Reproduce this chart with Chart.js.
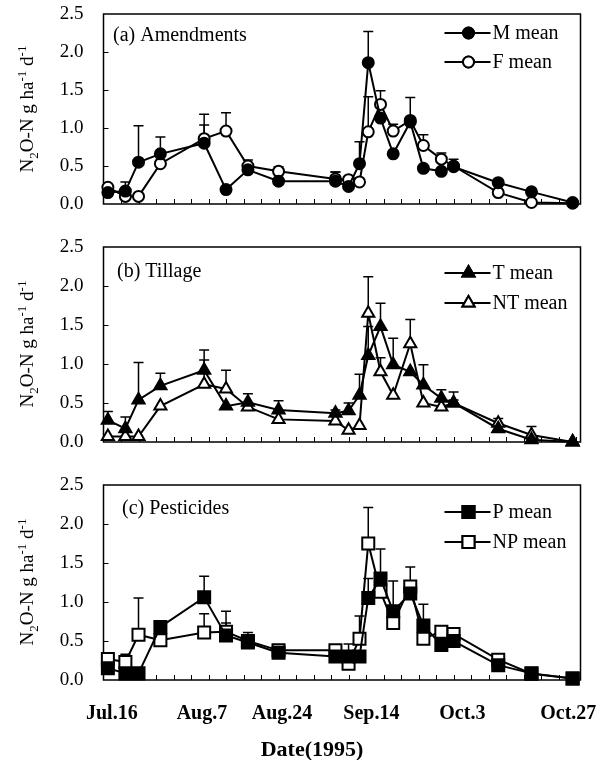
<!DOCTYPE html>
<html lang="en">
  <head>
    <meta charset="UTF-8" />
    <title>N2O-N flux 1995</title>
    <script src="https://cdn.jsdelivr.net/npm/chart.js"></script>
    <style>
      body { margin: 0; background: #fff; }
      #page { position: relative; width: 598px; height: 760px; overflow: hidden; font-family: "Liberation Serif", serif; color: #000; }
      .panel { position: absolute; left: 0; }
      .ytitle {
        position: absolute; left: 27px; font-size: 19px; white-space: nowrap;
        transform: translate(-50%, -50%) rotate(-90deg);
      }
      .ytitle sub, .ytitle sup { font-size: 13px; line-height: 0; }
      #xtitle { position: absolute; left: 312px; top: 749px; transform: translate(-50%, -50%); font-size: 22px; font-weight: bold; white-space: nowrap; }
    </style>
  </head>
  <body>
    <div id="page">
      <div class="panel" style="top:0px"><canvas id="chartA" width="598" height="222"></canvas></div>
      <div class="panel" style="top:233px"><canvas id="chartB" width="598" height="222"></canvas></div>
      <div class="panel" style="top:471px"><canvas id="chartC" width="598" height="289"></canvas></div>

      <div class="ytitle" style="top:109px">N<sub>2</sub>O-N g ha<sup>-1</sup> d<sup>-1</sup></div>
      <div class="ytitle" style="top:344px">N<sub>2</sub>O-N g ha<sup>-1</sup> d<sup>-1</sup></div>
      <div class="ytitle" style="top:582px">N<sub>2</sub>O-N g ha<sup>-1</sup> d<sup>-1</sup></div>
      <div id="xtitle">Date(1995)</div>
    </div>

    <script>
      // sampling days (days after Jul.15, 1995)
      const days = [1, 5, 8, 13, 23, 28, 33, 40, 53, 56, 58.5, 60.5, 63.3, 66.2, 70.1, 73.1, 77.2, 80, 90.2, 97.8, 107.2];

      // x axis labels
      const xTickDays = [1.9, 22.5, 40.8, 61.2, 82, 106.2];
      const xTickLabels = ["Jul.16", "Aug.7", "Aug.24", "Sep.14", "Oct.3", "Oct.27"];

      // (a) Amendments
      const mMean = [0.15, 0.17, 0.55, 0.66, 0.80, 0.19, 0.45, 0.30, 0.30, 0.23, 0.53, 1.86, 1.13, 0.66, 1.08, 0.47, 0.43, 0.49, 0.28, 0.16, 0.02];
      const mErr  = [0, 0.12, 0.48, 0.22, 0.24, 0, 0, 0, 0.12, 0, 0.29, 0.41, 0, 0, 0.32, 0, 0, 0.10, 0, 0.03, 0];
      const fMean = [0.22, 0.10, 0.10, 0.53, 0.86, 0.96, 0.50, 0.43, 0.33, 0.32, 0.29, 0.95, 1.31, 0.96, 1.10, 0.77, 0.59, 0.50, 0.15, 0.02, 0.01];
      const fErr  = [0.03, 0, 0, 0, 0.32, 0.24, 0.08, 0.06, 0.09, 0, 0, 0.46, 0.18, 0.09, 0, 0.14, 0.08, 0, 0, 0, 0];

      // (b) Tillage
      const tMean  = [0.28, 0.17, 0.54, 0.72, 0.92, 0.46, 0.51, 0.41, 0.37, 0.40, 0.60, 1.11, 1.48, 0.99, 0.90, 0.73, 0.56, 0.50, 0.17, 0.03, 0.00];
      const tErr   = [0.11, 0.15, 0.48, 0.16, 0.26, 0, 0.11, 0.12, 0.04, 0.10, 0.27, 0.37, 0.30, 0.34, 0, 0.26, 0.11, 0.14, 0.13, 0.17, 0];
      const ntMean = [0.07, 0.07, 0.07, 0.46, 0.74, 0.68, 0.45, 0.29, 0.27, 0.15, 0.21, 1.65, 0.90, 0.60, 1.26, 0.50, 0.45, 0.50, 0.24, 0.09, 0.00];
      const ntErr  = [0, 0, 0, 0, 0.31, 0.24, 0, 0, 0, 0, 0, 0.47, 0.18, 0, 0.31, 0, 0, 0.04, 0, 0, 0];

      // (c) Pesticides
      const pMean  = [0.15, 0.085, 0.085, 0.68, 1.06, 0.57, 0.48, 0.35, 0.30, 0.30, 0.30, 1.05, 1.30, 0.88, 1.11, 0.70, 0.45, 0.50, 0.19, 0.085, 0.02];
      const pErr   = [0, 0, 0, 0, 0.27, 0.16, 0.13, 0, 0, 0.16, 0, 0.25, 0.38, 0.39, 0.34, 0.27, 0, 0, 0, 0, 0];
      const npMean = [0.27, 0.23, 0.58, 0.51, 0.61, 0.62, 0.50, 0.38, 0.38, 0.21, 0.53, 1.75, 1.13, 0.73, 1.20, 0.53, 0.62, 0.59, 0.26, 0.08, 0.02];
      const npErr  = [0.07, 0.10, 0.47, 0, 0.24, 0.26, 0, 0, 0, 0, 0.29, 0.46, 0, 0, 0, 0, 0, 0, 0, 0, 0];

      const SERIF = "'Liberation Serif', 'Times New Roman', serif";

      function series(label, values, errors, style, filled, radius) {
        return {
          label: label,
          data: values.map((v, i) => ({ x: days[i], y: v })),
          errors: errors,
          borderColor: "#000",
          borderWidth: 2,
          pointStyle: style,
          pointRadius: radius,
          pointHoverRadius: radius,
          pointBorderWidth: 2,
          pointBorderColor: "#000",
          pointBackgroundColor: filled ? "#000" : "#fff",
          tension: 0,
          clip: false,
        };
      }

      // box round the plot area + inward tick marks
      const frameTicks = {
        id: "frameTicks",
        beforeDatasetsDraw(chart) {
          const { ctx, chartArea: a, scales } = chart;
          ctx.save();
          ctx.strokeStyle = "#000";
          ctx.lineWidth = 1.5;
          ctx.strokeRect(a.left, a.top, a.right - a.left, a.bottom - a.top);
          ctx.lineWidth = 1;
          ctx.beginPath();
          for (let d = 4; d < 109; d += 4) {
            const px = Math.round(scales.x.getPixelForValue(d)) + 0.5;
            ctx.moveTo(px, a.bottom);
            ctx.lineTo(px, a.bottom - 5);
          }
          for (let v = 0.5; v < 2.5; v += 0.5) {
            const py = Math.round(scales.y.getPixelForValue(v)) + 0.5;
            ctx.moveTo(a.left, py);
            ctx.lineTo(a.left + 5, py);
          }
          ctx.stroke();
          ctx.restore();
        },
      };

      // upper error bars with caps
      const errorBars = {
        id: "errorBars",
        beforeDatasetsDraw(chart) {
          const { ctx, scales } = chart;
          ctx.save();
          ctx.strokeStyle = "#000";
          ctx.lineWidth = 1.5;
          chart.data.datasets.forEach((ds) => {
            ds.data.forEach((pt, i) => {
              const e = ds.errors[i];
              if (!e) return;
              const px = scales.x.getPixelForValue(pt.x);
              const y0 = scales.y.getPixelForValue(pt.y);
              const y1 = scales.y.getPixelForValue(pt.y + e);
              ctx.beginPath();
              ctx.moveTo(px, y0);
              ctx.lineTo(px, y1);
              ctx.moveTo(px - 5, y1);
              ctx.lineTo(px + 5, y1);
              ctx.stroke();
            });
          });
          ctx.restore();
        },
      };

      // panel caption and legend inside the plot
      const captionLegend = {
        id: "captionLegend",
        afterDraw(chart, args, opts) {
          const { ctx, chartArea: a } = chart;
          ctx.save();
          ctx.fillStyle = "#000";
          ctx.font = "20px " + SERIF;
          ctx.textBaseline = "middle";
          ctx.textAlign = "left";
          ctx.fillText(opts.caption, opts.capX, a.top + opts.capY);
          const mx = a.right - 112;
          chart.data.datasets.forEach((ds, i) => {
            const y = a.top + opts.rows[i];
            ctx.strokeStyle = "#000";
            ctx.lineWidth = 2;
            ctx.beginPath();
            ctx.moveTo(mx - 24, y);
            ctx.lineTo(mx + 22, y);
            ctx.stroke();
            ctx.fillStyle = ds.pointBackgroundColor;
            Chart.helpers.drawPoint(ctx, {
              pointStyle: ds.pointStyle, radius: ds.pointRadius, rotation: 0, borderWidth: 2,
            }, mx, y);
            ctx.fill();
            ctx.stroke();
            ctx.fillStyle = "#000";
            ctx.fillText(ds.label, mx + 24, y + 1);
          });
          ctx.restore();
        },
      };

      function makePanel(id, datasets, caption, capX, capY, rows, showX, xHeight) {
        new Chart(document.getElementById(id), {
          type: "line",
          data: { datasets: datasets },
          plugins: [frameTicks, errorBars, captionLegend],
          options: {
            responsive: false,
            animation: false,
            events: [],
            layout: { padding: { top: 14, right: 17.5, left: 0, bottom: 0 } },
            plugins: {
              legend: { display: false },
              tooltip: { enabled: false },
              captionLegend: { caption: caption, capX: capX, capY: capY, rows: rows },
            },
            scales: {
              x: {
                type: "linear",
                min: 0,
                max: 109,
                afterBuildTicks: (s) => {
                  s.ticks = xTickDays.map((v) => ({ value: v }));
                },
                afterFit: (s) => {
                  s.height = xHeight;
                  s.paddingLeft = 0;
                  s.paddingRight = 0;
                },
                grid: { display: false, drawTicks: false },
                border: { display: false },
                ticks: {
                  display: showX,
                  autoSkip: false,
                  maxRotation: 0,
                  padding: 22,
                  color: "#000",
                  font: { family: SERIF, size: 20, weight: "bold" },
                  callback: (v, i) => xTickLabels[i],
                },
              },
              y: {
                min: 0,
                max: 2.5,
                afterFit: (s) => {
                  s.width = 103.5;
                  s.paddingTop = 0;
                  s.paddingBottom = 0;
                },
                grid: { display: false, drawTicks: false },
                border: { display: false },
                ticks: {
                  stepSize: 0.5,
                  padding: 20,
                  color: "#000",
                  font: { family: SERIF, size: 19 },
                  callback: (v) => v.toFixed(1),
                },
              },
            },
          },
        });
      }

      makePanel("chartA", [
        series("M mean", mMean, mErr, "circle", true, 5.5),
        series("F mean", fMean, fErr, "circle", false, 5.5),
      ], "(a) Amendments", 113, 22, [19, 48], false, 18);

      makePanel("chartB", [
        series("T mean", tMean, tErr, "triangle", true, 7),
        series("NT mean", ntMean, ntErr, "triangle", false, 7),
      ], "(b) Tillage", 117, 25, [26, 56], false, 13);

      makePanel("chartC", [
        series("P mean", pMean, pErr, "rect", true, 8.5),
        series("NP mean", npMean, npErr, "rect", false, 8.5),
      ], "(c) Pesticides", 122, 24, [27, 57], true, 80);
    </script>
  </body>
</html>
